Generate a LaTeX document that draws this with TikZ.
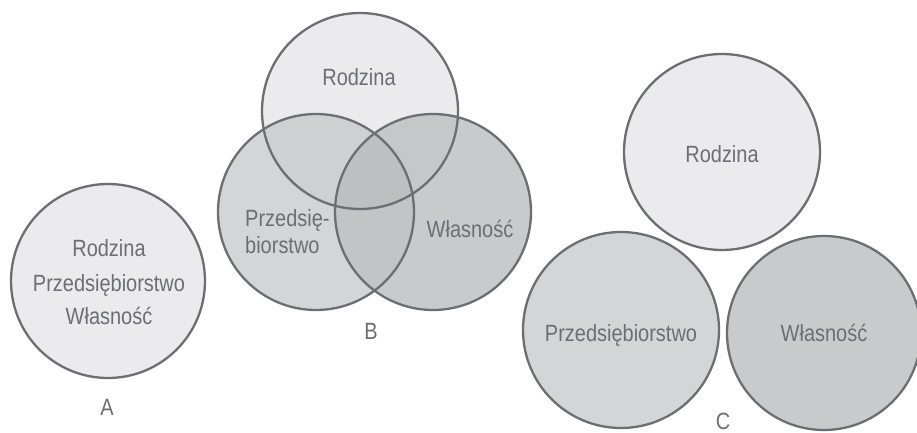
\documentclass[tikz,border=0pt]{standalone}
\usepackage{fontspec}
\setmainfont{Liberation Sans}[FakeStretch=0.85]
\definecolor{ln}{HTML}{6D6E71}
\definecolor{lite}{HTML}{EBEBED}
\definecolor{midg}{HTML}{D4D5D7}
\definecolor{darkg}{HTML}{C9CACC}
\definecolor{rpg}{HTML}{CFD0D2}
\definecolor{rwg}{HTML}{C6C7C9}
\definecolor{pwg}{HTML}{C3C4C6}
\definecolor{allg}{HTML}{BEBFC1}
\tikzset{
  ring/.style={draw=ln, line width=2.3pt},
  txt/.style={text=ln, font=\fontsize{23.5}{28}\selectfont, inner sep=0pt, anchor=base},
  txtw/.style={txt, anchor=base west}
}
\begin{document}
\begin{tikzpicture}[x=1pt,y=-1pt]
\useasboundingbox (0,0) rectangle (917,433);
% ---------- A ----------
\path[fill=lite, ring] (108,281) circle[radius=97pt];
\node[txt] (aR) at (109,256) {Rodzina};
\node[txt] (aP) at (109,291) {Przedsiębiorstwo};
\node[txt] (aW) at (109,324) {Własność};
\node[txt] (aL) at (107,415) {A};
% ---------- B ----------
\def\cR{(360,111) circle[radius=98pt]}
\def\cP{(316,212) circle[radius=98pt]}
\def\cW{(433,212) circle[radius=98pt]}
\fill[lite] \cR;
\fill[midg] \cP;
\fill[darkg] \cW;
\begin{scope}\clip \cR; \fill[rpg] \cP; \end{scope}
\begin{scope}\clip \cR; \fill[rwg] \cW; \end{scope}
\begin{scope}\clip \cP; \fill[pwg] \cW; \end{scope}
\begin{scope}\clip \cR; \clip \cP; \fill[allg] \cW; \end{scope}
\draw[ring] \cR;
\draw[ring] \cP;
\draw[ring] \cW;
\node[txt] (bR) at (359,86) {Rodzina};
\node[txtw] (bP1) at (245,226) {Przedsię-};
\node[txtw] (bP2) at (245,253) {biorstwo};
\node[txt] (bW) at (470,237) {Własność};
\node[txt] (bL) at (371,339) {B};
% ---------- C ----------
\path[fill=lite, ring] (722,152) circle[radius=98pt];
\path[fill=midg, ring] (621,330) circle[radius=98pt];
\path[fill=darkg, ring] (824,333) circle[radius=97pt];
\node[txt] (cR) at (722,162) {Rodzina};
\node[txt] (cP) at (621,341) {Przedsiębiorstwo};
\node[txt] (cW) at (824,341) {Własność};
\node[txt] (cL) at (723,429) {C};
\end{tikzpicture}
\end{document}
